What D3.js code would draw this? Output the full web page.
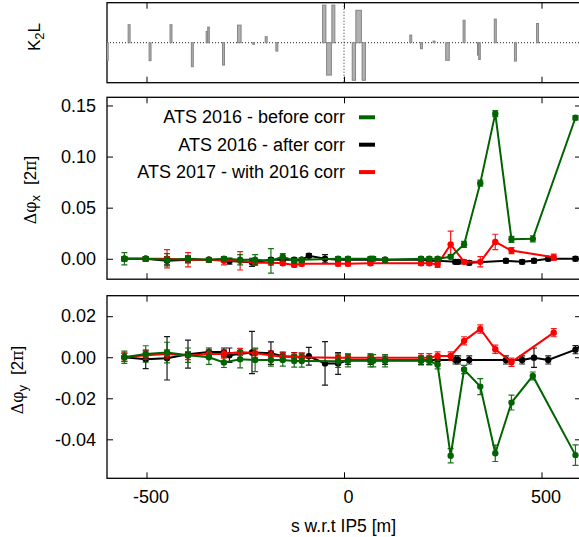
<!doctype html>
<html>
<head>
<meta charset="utf-8">
<script src="https://d3js.org/d3.v7.min.js"></script>
<style>
  body { margin: 0; background: #fff; }
  text { font-family: "Liberation Sans", Arial, sans-serif; }
</style>
</head>
<body>
<svg id="chart"></svg>
<script>
// --- K2L of the magnets (arbitrary units), position and length in m
const magS = [-599, -544, -491, -438, -384, -347, -343, -305, -265, -229, -197, -170,
              -50, -38, -27, 25, 37, 50, 169, 196, 228, 262, 304, 340, 343, 383, 434, 490];
const magL = [4, 5, 5, 5, 5, 4, 4, 5, 9, 4, 5, 5,
              8.4, 12, 7.6, 8.4, 14, 8.4, 5, 5, 5, 9, 5, 4, 4, 5, 5, 5];
const magK2L = [-0.45, 0.45, -0.45, 0.45, -0.60, 0.28, 0.39, -0.56, 0.44, -0.04, 0.15, -0.21,
                0.94, -0.81, 0.94, -0.94, 0.81, -0.94, 0.19, -0.15, 0.04, -0.44, 0.56, -0.31, -0.42, 0.59, -0.46, 0.48];

// --- ATS 2016 - before corr (green)
const sBefore = [-556, -502, -448, -395, -342, -304, -263, -225, -185, -155, -126, -107, -15, 10, 67, 74, 104,
                 195, 216, 237, 270, 304, 345, 383, 424, 478, 586];
const dxBefore = [0.000, 0.000, -0.001, 0.000, -0.001, 0.000, -0.001, -0.001, -0.002, 0.002, -0.002, -0.001, 0.000, 0.000, 0.000, 0.000, -0.001,
                  0.000, 0.000, 0.000, 0.002, 0.014, 0.074, 0.142, 0.019, 0.0195, 0.138];
const dxBeforeErr = [0.006, 0.002, 0.006, 0.003, 0.002, 0.002, 0.005, 0.005, 0.012, 0.003, 0.002, 0.002, 0.002, 0.002, 0.002, 0.002, 0.002,
                     0.002, 0.002, 0.002, 0.002, 0.003, 0.003, 0.003, 0.003, 0.003, 0.002];
const dyBefore = [0.000, 0.0016, 0.0023, 0.001, 0.000, -0.0025, -0.001, -0.0013, -0.0013, -0.0013, -0.0018, -0.0018, -0.002, -0.0017, -0.0017, -0.0017, -0.0017,
                  -0.0017, -0.0017, -0.0037, -0.048, -0.006, -0.0143, -0.0468, -0.0221, -0.0091, -0.0477];
const dyBeforeErr = [0.003, 0.004, 0.005, 0.0035, 0.0035, 0.0025, 0.0042, 0.0057, 0.003, 0.003, 0.003, 0.003, 0.003, 0.003, 0.003, 0.003, 0.003,
                     0.002, 0.002, 0.002, 0.0035, 0.002, 0.0039, 0.004, 0.0036, 0.0019, 0.005];

// --- ATS 2016 - after corr (black)
const sAfter = [-556, -502, -448, -395, -342, -304, -290, -233, -185, -155, -126, -107, -89, -48, -15, 10, 67, 104,
                195, 216, 237, 282, 289, 317, 410, 451, 481, 517, 586, 615];
const dxAfter = [0.000, 0.000, -0.002, -0.001, -0.001, -0.001, -0.0023, -0.0035, -0.001, -0.001, -0.001, -0.001, 0.003, 0.000, -0.001, -0.001, -0.001, -0.001,
                 -0.001, -0.002, -0.002, -0.003, -0.003, -0.004, -0.002, -0.003, -0.002, 0.000, 0.000, 0.000];
const dxAfterErr = [0.002, 0.002, 0.004, 0.003, 0.002, 0.002, 0.003, 0.004, 0.002, 0.002, 0.002, 0.002, 0.002, 0.004, 0.002, 0.002, 0.002, 0.002,
                    0.002, 0.002, 0.002, 0.002, 0.002, 0.002, 0.002, 0.002, 0.002, 0.002, 0.002, 0.002];
const dyAfter = [0.000, -0.001, -0.0005, 0.0015, 0.0025, 0.0025, 0.001, 0.0023, 0.002, 0.0005, 0.0003, 0.000, 0.0005, -0.003, -0.003, -0.0015, -0.0015, -0.0015,
                 -0.0015, -0.0015, -0.0013, -0.0013, -0.0013, -0.0013, -0.0013, -0.0013, -0.0002, -0.0013, 0.0037, 0.008];
const dyAfterErr = [0.002, 0.0045, 0.0106, 0.0068, 0.002, 0.002, 0.0035, 0.0103, 0.0055, 0.002, 0.002, 0.002, 0.0043, 0.0106, 0.0053, 0.002, 0.002, 0.002,
                    0.002, 0.002, 0.002, 0.002, 0.002, 0.002, 0.002, 0.002, 0.0047, 0.002, 0.002, 0.002];

// --- ATS 2017 - with 2016 corr (red)
const sWith = [-556, -502, -448, -395, -342, -304, -263, -225, -185, -155, -126, -107, -15, 10, 67,
               195, 216, 237, 270, 304, 345, 383, 424, 531];
const dxWith = [0.000, 0.000, 0.000, -0.001, -0.001, -0.002, -0.002, -0.004, -0.004, -0.0045, -0.006, -0.005, -0.005, -0.005, -0.0045,
                -0.0045, -0.0045, -0.0055, 0.014, -0.003, -0.003, 0.0165, 0.008, 0.0015];
const dxWithErr = [0.002, 0.002, 0.009, 0.007, 0.002, 0.004, 0.009, 0.002, 0.002, 0.002, 0.002, 0.002, 0.002, 0.002, 0.002,
                   0.002, 0.002, 0.003, 0.013, 0.002, 0.005, 0.0075, 0.003, 0.003];
const dyWith = [0.000, 0.001, 0.0016, 0.0008, 0.0016, 0.0016, 0.0026, 0.002, 0.001, 0.0002, 0.0002, 0.000, -0.0002, -0.0002, -0.0002,
                -0.0002, -0.0002, 0.0006, 0.0006, 0.008, 0.0138, 0.0039, -0.0024, 0.012];
const dyWithErr = [0.002, 0.002, 0.002, 0.002, 0.002, 0.002, 0.0017, 0.002, 0.002, 0.002, 0.002, 0.002, 0.002, 0.002, 0.002,
                   0.002, 0.002, 0.002, 0.002, 0.002, 0.002, 0.002, 0.002, 0.002];

const legendNames = ["ATS 2016 - before corr", "ATS 2016 - after corr", "ATS 2017 - with 2016 corr"];
const xTicks = [-500, 0, 500];
const hTicks = [0.00, 0.05, 0.10, 0.15];
const vTicks = [-0.04, -0.02, 0.00, 0.02];

const width = 579, height = 537;
const green = "#006400", black = "#000000", red = "#ff0000";
const fontSize = 18;

const svg = d3.select("#chart").attr("width", width).attr("height", height);

const x = d3.scaleLinear().domain([-600, 600]).range([107, 581]);
const yK = d3.scaleLinear().domain([-1, 1]).range([82.7, 2.7]);
const yH = d3.scaleLinear().domain([-0.02, 0.158]).range([279.2, 97.3]);
const yV = d3.scaleLinear().domain([-0.059, 0.030]).range([478.3, 295.7]);

// gnuplot style: plain hyphen for the minus sign
const fmt2 = d => d3.format(".2f")(d).replace("\u2212", "-");
const fmtX = d => d3.format("d")(d).replace("\u2212", "-");

function frame(y, id, yticks) {
    const [b, t] = y.range();
    const g = svg.append("g");
    svg.append("clipPath").attr("id", id)
        .append("rect").attr("x", x.range()[0]).attr("y", t)
        .attr("width", x.range()[1] - x.range()[0]).attr("height", b - t);

    // inward ticks, all four sides
    g.append("g").attr("transform", `translate(0,${b})`)
        .call(d3.axisBottom(x).tickValues(xTicks).tickSize(-6).tickFormat(""))
        .call(a => a.select(".domain").remove());
    g.append("g").attr("transform", `translate(0,${t})`)
        .call(d3.axisTop(x).tickValues(xTicks).tickSize(-6).tickFormat(""))
        .call(a => a.select(".domain").remove());
    if (yticks) {
        g.append("g").attr("transform", `translate(${x.range()[0]},0)`)
            .call(d3.axisLeft(y).tickValues(yticks).tickSize(-6).tickPadding(11).tickFormat(fmt2))
            .call(a => a.select(".domain").remove())
            .call(a => a.selectAll("text").attr("font-size", fontSize).attr("fill", "#000")
                .style("font-family", "'Liberation Sans', Arial, sans-serif"));
        g.append("g").attr("transform", `translate(${x.range()[1]},0)`)
            .call(d3.axisRight(y).tickValues(yticks).tickSize(-6).tickFormat(""))
            .call(a => a.select(".domain").remove());
    }
    g.selectAll(".tick line").attr("stroke", "#000").attr("stroke-width", 1);
    g.append("rect").attr("x", x.range()[0]).attr("y", t)
        .attr("width", x.range()[1] - x.range()[0]).attr("height", b - t)
        .attr("fill", "none").attr("stroke", "#000").attr("stroke-width", 1.3);
    return g;
}

// ---------- K2L panel
frame(yK, "clipK", null);
const gK = svg.append("g").attr("clip-path", "url(#clipK)");
gK.append("line").attr("x1", x.range()[0]).attr("x2", x.range()[1])
    .attr("y1", yK(0)).attr("y2", yK(0))
    .attr("stroke", "#222").attr("stroke-dasharray", "1,2");
gK.append("line").attr("x1", x(0)).attr("x2", x(0))
    .attr("y1", yK.range()[1]).attr("y2", yK.range()[0])
    .attr("stroke", "#222").attr("stroke-dasharray", "1,2");
gK.selectAll("rect.mag")
    .data(magS.map((s, i) => ({ s, l: magL[i], k: magK2L[i] })))
    .join("rect").attr("class", "mag")
    .attr("x", d => x(d.s - d.l / 2))
    .attr("width", d => x(d.s + d.l / 2) - x(d.s - d.l / 2))
    .attr("y", d => Math.min(yK(d.k), yK(0)))
    .attr("height", d => Math.abs(yK(d.k) - yK(0)))
    .attr("fill", "#b0b0b0").attr("stroke", "#858585").attr("stroke-width", 1);

// ---------- measurement panels
function series(g, y, s, v, e, color) {
    const pts = s.map((d, i) => ({ s: d, v: v[i], e: e[i] }));
    g.append("path").datum(pts)
        .attr("fill", "none").attr("stroke", color).attr("stroke-width", 2)
        .attr("d", d3.line().x(d => x(d.s)).y(d => y(d.v)));
    const eb = g.append("g").attr("stroke", color).attr("stroke-width", 1.2).attr("opacity", 0.9);
    eb.selectAll("path").data(pts).join("path")
        .attr("fill", "none")
        .attr("d", d => {
            const cx = x(d.s), y1 = y(d.v + d.e), y2 = y(d.v - d.e);
            return `M${cx - 3},${y1}H${cx + 3}M${cx},${y1}V${y2}M${cx - 3},${y2}H${cx + 3}`;
        });
    g.append("g").selectAll("circle").data(pts).join("circle")
        .attr("cx", d => x(d.s)).attr("cy", d => y(d.v)).attr("r", 3.2)
        .attr("fill", color);
}

frame(yH, "clipH", hTicks);
const gH = svg.append("g").attr("clip-path", "url(#clipH)");
series(gH, yH, sAfter, dxAfter, dxAfterErr, black);
series(gH, yH, sWith, dxWith, dxWithErr, red);
series(gH, yH, sBefore, dxBefore, dxBeforeErr, green);

frame(yV, "clipV", vTicks);
const gV = svg.append("g").attr("clip-path", "url(#clipV)");
series(gV, yV, sAfter, dyAfter, dyAfterErr, black);
series(gV, yV, sWith, dyWith, dyWithErr, red);
series(gV, yV, sBefore, dyBefore, dyBeforeErr, green);

// ---------- legend
const legendColors = [green, black, red];
const lg = svg.append("g");
legendNames.forEach((name, i) => {
    const base = 123.3 + i * 27.4;
    lg.append("text").attr("x", 345).attr("y", base)
        .attr("text-anchor", "end").attr("font-size", fontSize).text(name);
    lg.append("line").attr("x1", 359).attr("x2", 375)
        .attr("y1", base - 6).attr("y2", base - 6)
        .attr("stroke", legendColors[i]).attr("stroke-width", 4);
});

// ---------- x tick labels and title
svg.append("g").attr("transform", `translate(4,${yV.range()[0]})`)
    .call(d3.axisBottom(x).tickValues(xTicks).tickSize(0).tickPadding(12.2).tickFormat(fmtX))
    .call(a => a.select(".domain").remove())
    .call(a => a.selectAll("text").attr("font-size", fontSize).attr("fill", "#000")
        .style("font-family", "'Liberation Sans', Arial, sans-serif"));

svg.append("text").attr("x", 343.5).attr("y", 531.7).attr("text-anchor", "middle")
    .attr("font-size", 17.5).text("s w.r.t IP5 [m]");

// ---------- y titles
function ytitle(cx, cy, sub) {
    const t = svg.append("text").attr("transform", `translate(${cx},${cy}) rotate(-90)`)
        .attr("text-anchor", "middle").attr("font-size", 17);
    t.append("tspan").style("font-family", "'DejaVu Serif', serif").attr("font-size", 16).text("Δφ");
    t.append("tspan").attr("dy", 4).attr("font-size", 13).text(sub);
    t.append("tspan").attr("dy", -4).attr("dx", 10).text("[2");
    t.append("tspan").style("font-family", "'DejaVu Serif', serif").attr("font-size", 16).text("π");
    t.append("tspan").text("]");
}
ytitle(36, 190, "x");
ytitle(23, 380, "y");

const kt = svg.append("text").attr("transform", "translate(40,37) rotate(-90)")
    .attr("text-anchor", "middle").attr("font-size", 17);
kt.append("tspan").text("K");
kt.append("tspan").attr("dy", 4).attr("font-size", 13).text("2");
kt.append("tspan").attr("dy", -4).text("L");
</script>
</body>
</html>
